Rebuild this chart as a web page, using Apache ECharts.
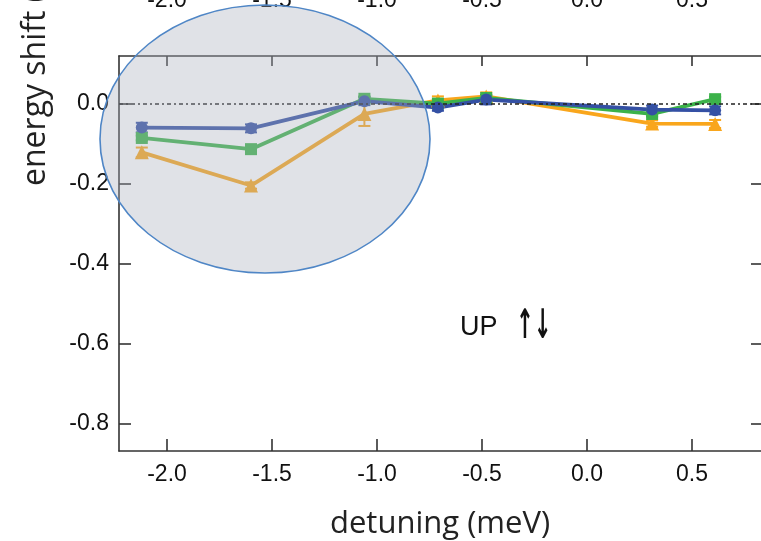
<!DOCTYPE html>
<html><head><meta charset="utf-8">
<script src="https://cdn.jsdelivr.net/npm/echarts@6/dist/echarts.min.js"></script>
<style>html,body{margin:0;padding:0;background:#fff}#c{width:761px;height:541px}</style>
</head><body><div id="c"></div>
<script>
// ---- data ----
const detuning = [-2.12, -1.60, -1.06, -0.71, -0.48, 0.31, 0.61];
const blueVals   = [-0.060, -0.062, 0.006, -0.010, 0.010, -0.015, -0.017];
const greenVals  = [-0.086, -0.114, 0.012, 0.000, 0.014, -0.026, 0.011];
const orangeVals = [-0.122, -0.205, -0.026, 0.008, 0.018, -0.050, -0.051];
const blueErr   = [0.012, 0.010, 0.010, 0.008, 0.012, 0.010, 0.010];
const greenErr  = [0.006, 0.006, 0.006, 0.006, 0.006, 0.006, 0.006];
const orangeErr = [0.012, 0.008, 0.030, 0.010, 0.010, 0.008, 0.010];
const xTicks = [-2.0, -1.5, -1.0, -0.5, 0.0, 0.5];
const yTicks = [0.0, -0.2, -0.4, -0.6, -0.8];

const C_BLUE = '#3450a4', C_GREEN = '#3cb24a', C_ORANGE = '#f9a61c';
const tickFont = '"Liberation Sans", Arial, sans-serif';
const titleFont = '"Open Sans", "Noto Sans", sans-serif';

function lineSeries(name, vals, color, symbol, size) {
  return {
    name, type: 'line', data: detuning.map((d, i) => [d, vals[i]]),
    symbol, symbolSize: size, showSymbol: true,
    lineStyle: { color, width: 3.8 }, itemStyle: { color },
    z: 3, animation: false
  };
}
function errSeries(vals, errs, color) {
  return {
    type: 'custom', animation: false, z: 2,
    encode: { x: 0, y: 1 },
    data: detuning.map((d, i) => [d, vals[i], errs[i]]),
    renderItem: (params, api) => {
      const x = api.value(0), y = api.value(1), e = api.value(2);
      const lo = api.coord([x, y - e]), hi = api.coord([x, y + e]);
      const cw = 6, st = { stroke: color, lineWidth: 2 };
      return { type: 'group', children: [
        { type: 'line', shape: { x1: lo[0], y1: lo[1], x2: hi[0], y2: hi[1] }, style: st },
        { type: 'line', shape: { x1: lo[0] - cw, y1: lo[1], x2: lo[0] + cw, y2: lo[1] }, style: st },
        { type: 'line', shape: { x1: hi[0] - cw, y1: hi[1], x2: hi[0] + cw, y2: hi[1] }, style: st }
      ]};
    }
  };
}

const axisLineStyle = { color: '#333', width: 1.6 };
const chart = echarts.init(document.getElementById('c'), null, { renderer: 'canvas' });
chart.setOption({
  animation: false,
  grid: { left: 119, right: -2, top: 56, bottom: 90, outerBoundsMode: 'none', containLabel: false },
  xAxis: [{
    type: 'value', min: -2.2286, max: 0.838, position: 'bottom',
    axisLine: { show: true, onZero: false, lineStyle: axisLineStyle },
    axisTick: { show: true, inside: true, length: 12, customValues: xTicks, lineStyle: axisLineStyle },
    axisLabel: { customValues: xTicks, formatter: v => v.toFixed(1), color: '#111', fontSize: 23, fontFamily: tickFont, margin: 12 },
    splitLine: { show: false }
  }, {
    type: 'value', min: -2.2286, max: 0.838, position: 'top',
    axisLine: { show: true, onZero: false, lineStyle: axisLineStyle },
    axisTick: { show: true, inside: true, length: 10, customValues: xTicks, lineStyle: axisLineStyle },
    axisLabel: { customValues: xTicks, formatter: v => v.toFixed(1), color: '#111', fontSize: 23, fontFamily: tickFont, margin: 44 },
    splitLine: { show: false }
  }],
  yAxis: [{
    type: 'value', min: -0.869, max: 0.119, position: 'left',
    axisLine: { show: true, onZero: false, lineStyle: axisLineStyle },
    axisTick: { show: true, inside: true, length: 12, customValues: yTicks, lineStyle: axisLineStyle },
    axisLabel: { customValues: yTicks, formatter: v => v.toFixed(1), color: '#111', fontSize: 23, fontFamily: tickFont, margin: 10 },
    splitLine: { show: false }
  }, {
    type: 'value', min: -0.869, max: 0.119, position: 'right',
    axisLine: { show: true, onZero: false, lineStyle: axisLineStyle },
    axisTick: { show: true, inside: true, length: 12, customValues: yTicks, lineStyle: axisLineStyle },
    axisLabel: { show: false },
    splitLine: { show: false }
  }],
  series: [
    errSeries(orangeVals, orangeErr, C_ORANGE),
    errSeries(greenVals, greenErr, C_GREEN),
    errSeries(blueVals, blueErr, C_BLUE),
    Object.assign(lineSeries('orange', orangeVals, C_ORANGE, 'triangle', 14), {
      markLine: {
        silent: true, symbol: 'none', label: { show: false },
        lineStyle: { color: '#222', width: 1.5, type: [4, 3, 2, 3] },
        data: [{ yAxis: 0 }]
      }
    }),
    lineSeries('green', greenVals, C_GREEN, 'rect', 12),
    lineSeries('blue', blueVals, C_BLUE, 'circle', 12)
  ],
  graphic: [
    { type: 'ellipse', z: 100, shape: { cx: 265, cy: 139, rx: 165, ry: 134 },
      style: { fill: 'rgba(168,176,188,0.36)', stroke: '#4f86c6', lineWidth: 1.6 } },
    { type: 'text', x: 460, y: 328, z: 100,
      style: { text: 'UP', fontSize: 27, fontFamily: tickFont, fill: '#111', textVerticalAlign: 'middle' } },
    { type: 'text', x: 516, y: 327, z: 100, scaleX: 0.62, scaleY: 1.2,
      style: { text: '↑↓', fontSize: 34, fontWeight: 'bold', fontFamily: '"DejaVu Sans", sans-serif', fill: '#111', textVerticalAlign: 'middle' } },
    { type: 'text', x: 440, y: 524, z: 100,
      style: { text: 'detuning (meV)', fontSize: 31, fontFamily: titleFont, fill: '#222', textAlign: 'center', textVerticalAlign: 'middle' } },
    { type: 'text', x: 36, y: 186, rotation: Math.PI / 2, z: 100,
      style: { text: 'energy shift (meV)', fontSize: 32, fontFamily: titleFont, fill: '#222', textAlign: 'left', textVerticalAlign: 'middle' } }
  ]
});
</script></body></html>
